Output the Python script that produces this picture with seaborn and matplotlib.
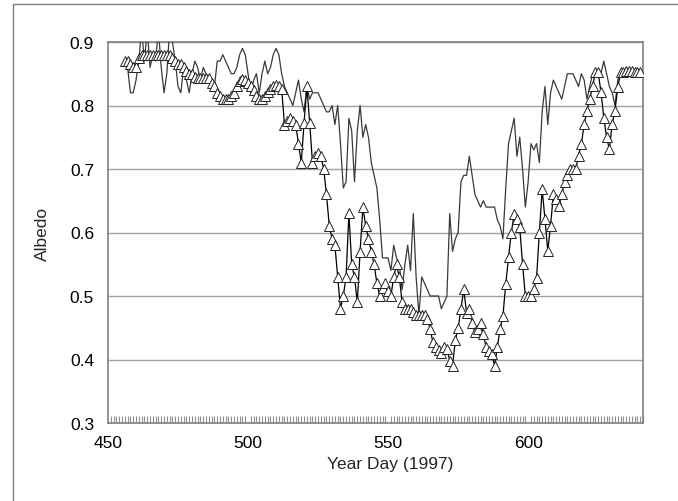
import matplotlib
matplotlib.use("Agg")
import matplotlib.pyplot as plt
import matplotlib.transforms as mtransforms
from matplotlib.patches import Rectangle
from matplotlib.ticker import MultipleLocator
import pandas as pd
import seaborn as sns

# ---------------- data ----------------
line_days = list(range(457, 641))
line_vals = [
    0.86, 0.82, 0.82, 0.84, 0.87, 0.92, 0.87, 0.92, 0.86, 0.88,   # 457-466
    0.87, 0.92, 0.86, 0.82, 0.85, 0.92, 0.90, 0.87, 0.83, 0.82,   # 467-476
    0.86, 0.84, 0.82, 0.85, 0.87, 0.86, 0.84, 0.86, 0.85, 0.84,   # 477-486
    0.83, 0.83, 0.87, 0.87, 0.88, 0.87, 0.86, 0.85, 0.85, 0.86,   # 487-496
    0.88, 0.89, 0.88, 0.85, 0.82, 0.84, 0.85, 0.82, 0.85, 0.87,   # 497-506
    0.85, 0.86, 0.88, 0.89, 0.88, 0.85, 0.83, 0.82, 0.81, 0.80,   # 507-516
    0.82, 0.84, 0.81, 0.79, 0.83, 0.81, 0.82, 0.82, 0.82, 0.81,   # 517-526
    0.80, 0.79, 0.79, 0.80, 0.77, 0.80, 0.74, 0.67, 0.68, 0.78,   # 527-536
    0.76, 0.68, 0.76, 0.80, 0.75, 0.77, 0.75, 0.71, 0.69, 0.67,   # 537-546
    0.62, 0.56, 0.56, 0.56, 0.54, 0.58, 0.56, 0.55, 0.51, 0.55,   # 547-556
    0.58, 0.54, 0.63, 0.53, 0.47, 0.53, 0.52, 0.51, 0.50, 0.50,   # 557-566
    0.50, 0.50, 0.48, 0.49, 0.50, 0.63, 0.57, 0.59, 0.60, 0.68,   # 567-576
    0.69, 0.69, 0.72, 0.69, 0.66, 0.65, 0.64, 0.65, 0.64, 0.64,   # 577-586
    0.64, 0.64, 0.62, 0.61, 0.59, 0.67, 0.74, 0.76, 0.78, 0.72,   # 587-596
    0.75, 0.70, 0.64, 0.68, 0.74, 0.73, 0.74, 0.71, 0.79, 0.83,   # 597-606
    0.77, 0.82, 0.84, 0.83, 0.82, 0.81, 0.83, 0.85, 0.85, 0.85,   # 607-616
    0.84, 0.83, 0.85, 0.84, 0.81, 0.83, 0.85, 0.85, 0.85, 0.85,   # 617-626
    0.87, 0.85, 0.83, 0.82, 0.80, 0.84, 0.85, 0.85, 0.85, 0.85,   # 627-636
    0.85, 0.85, 0.85, 0.85,                                       # 637-640
]

tri_days = list(range(456, 641))
tri_vals = [
    0.870, 0.870, 0.865, 0.860, 0.860, 0.875, 0.880, 0.880, 0.880, 0.880,  # 456-465
    0.880, 0.880, 0.880, 0.880, 0.880, 0.880, 0.880, 0.875, 0.870, 0.865,  # 466-475
    0.865, 0.860, 0.855, 0.850, 0.850, 0.845, 0.843, 0.843, 0.843, 0.843,  # 476-485
    0.843, 0.835, 0.830, 0.820, 0.815, 0.810, 0.810, 0.810, 0.815, 0.820,  # 486-495
    0.830, 0.838, 0.842, 0.840, 0.835, 0.830, 0.824, 0.815, 0.810, 0.810,  # 496-505
    0.815, 0.821, 0.826, 0.830, 0.833, 0.830, 0.826, 0.770, 0.775, 0.780,  # 506-515
    0.775, 0.770, 0.740, 0.710, 0.773, 0.830, 0.773, 0.710, 0.720, 0.725,  # 516-525
    0.720, 0.700, 0.660, 0.610, 0.590, 0.580, 0.530, 0.480, 0.500, 0.530,  # 526-535
    0.630, 0.550, 0.530, 0.490, 0.570, 0.640, 0.610, 0.590, 0.570, 0.550,  # 536-545
    0.520, 0.500, 0.513, 0.520, 0.508, 0.500, 0.530, 0.550, 0.530, 0.490,  # 546-555
    0.480, 0.480, 0.480, 0.475, 0.470, 0.470, 0.470, 0.470, 0.464, 0.448,  # 556-565
    0.427, 0.420, 0.415, 0.410, 0.419, 0.417, 0.398, 0.390, 0.430, 0.450,  # 566-575
    0.479, 0.511, 0.474, 0.480, 0.458, 0.443, 0.448, 0.458, 0.440, 0.419,  # 576-585
    0.414, 0.409, 0.390, 0.420, 0.448, 0.469, 0.519, 0.561, 0.600, 0.629,  # 586-595
    0.621, 0.608, 0.550, 0.500, 0.500, 0.500, 0.511, 0.529, 0.600, 0.668,  # 596-605
    0.621, 0.571, 0.611, 0.660, 0.652, 0.642, 0.660, 0.679, 0.690, 0.700,  # 606-615
    0.700, 0.700, 0.721, 0.739, 0.771, 0.792, 0.810, 0.831, 0.852, 0.852,  # 616-625
    0.821, 0.781, 0.750, 0.731, 0.771, 0.792, 0.829, 0.852, 0.852, 0.855,  # 626-635
    0.855, 0.855, 0.852, 0.852, 0.852,                                     # 636-640
]

x_ticks = [450, 500, 550, 600]
y_ticks = [0.3, 0.4, 0.5, 0.6, 0.7, 0.8, 0.9]
x_label = "Year Day (1997)"
y_label = "Albedo"

# ---------------- style ----------------
sns.set_style("white")
plt.rcParams["font.family"] = ["Liberation Sans", "DejaVu Sans"]

W, H = 678, 502
fig = plt.figure(figsize=(W / 100, H / 100), dpi=100)
fig.patch.set_facecolor("white")
ax = fig.add_axes([108 / W, 1 - 424 / H, 535 / W, 381 / H])

df_line = pd.DataFrame({"day": line_days, "albedo": line_vals})
df_tri = pd.DataFrame({"day": tri_days, "albedo": tri_vals})

sns.lineplot(data=df_line, x="day", y="albedo", ax=ax, color="#3a3a3a",
             linewidth=0.9, estimator=None, sort=False, zorder=3)
sns.lineplot(data=df_tri, x="day", y="albedo", ax=ax, color="black",
             linewidth=0.9, estimator=None, sort=False, marker="^",
             markersize=7.5, markerfacecolor="white", markeredgecolor="#222222",
             markeredgewidth=0.7, zorder=4)

ax.set_xlim(450, 641)
ax.set_ylim(0.3, 0.9)
ax.set_xticks(x_ticks)
ax.set_xticklabels([str(t) for t in x_ticks])
ax.set_yticks(y_ticks)
ax.set_yticklabels([f"{t:.1f}" for t in y_ticks])
ax.xaxis.set_minor_locator(MultipleLocator(1))
ax.yaxis.set_minor_locator(MultipleLocator(0.05))

ax.yaxis.grid(True, which="major", color="#a0a0a0", linewidth=1)
ax.xaxis.grid(False)
ax.set_axisbelow(True)

for s in ax.spines.values():
    s.set_visible(True)
    s.set_color("#808080")
    s.set_linewidth(1.2)

ax.tick_params(axis="y", which="major", direction="out", length=7, width=1,
               color="#808080", labelsize=12.5, pad=3, labelcolor="black")
ax.tick_params(axis="y", which="minor", direction="inout", length=9, width=1,
               color="#808080")
ax.tick_params(axis="x", which="major", direction="in", length=5, width=1,
               color="#909090", labelsize=12.5, pad=9, labelcolor="black")
ax.tick_params(axis="x", which="minor", direction="in", length=5, width=0.8,
               color="#909090", bottom=True)
for t in ax.xaxis.get_minor_ticks():
    t.tick1line.set_zorder(5)

ax.set_xlabel(x_label, fontsize=12.5)
ax.set_ylabel(y_label, fontsize=12.5)
ax.xaxis.set_label_coords((390 - 108) / 535, (424 - 457) / 381)
ax.yaxis.set_label_coords((50 - 108) / 535, 0.5)

border = Rectangle((13, -20), 800, (H - 5) + 20, transform=mtransforms.IdentityTransform(),
                   fill=False, edgecolor="#808080", linewidth=1)
fig.patches.append(border)

fig.savefig("out.png", dpi=100, facecolor="white")
